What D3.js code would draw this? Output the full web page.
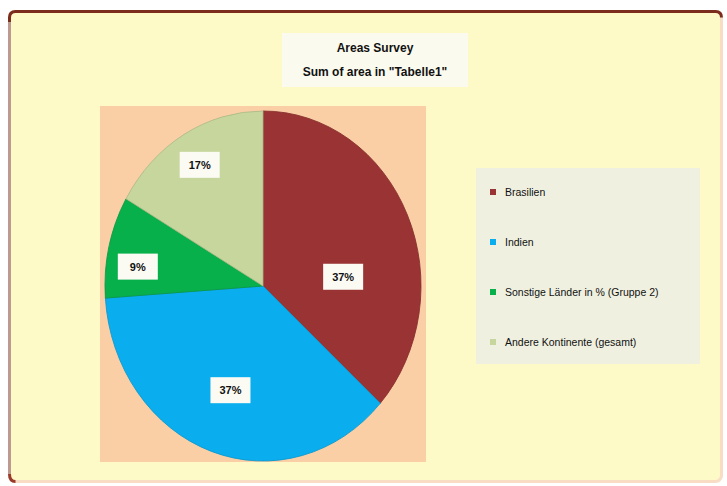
<!DOCTYPE html>
<html>
<head>
<meta charset="utf-8">
<script src="https://cdn.jsdelivr.net/npm/d3@7/dist/d3.min.js"></script>
<style>
  html, body { margin: 0; padding: 0; background: #ffffff; }
  svg { display: block; }
  text { font-family: "Liberation Sans", Arial, sans-serif; }
</style>
</head>
<body>
<svg id="chart" width="727" height="486"></svg>
<script>
// ---- data ----
const titleLines = ["Areas Survey", "Sum of area in \"Tabelle1\""];
const categories = ["Brasilien", "Indien", "Sonstige Länder in % (Gruppe 2)", "Andere Kontinente (gesamt)"];
const values = [36.7, 37.2, 9.4, 16.7];
const labelShiftDeg = [18, 0, -5, 0];
const labelRadius = [0.51, 0.63, 0.8, 0.8];
const colors = ["#9a3434", "#0aaeee", "#08b04c", "#c6d69c"];

// ---- layout ----
const svg = d3.select("#chart");
const total = d3.sum(values);
const fmt = v => Math.round(v / total * 100) + "%";

// outer frame
svg.append("rect")
  .attr("x", 9.5).attr("y", 11.5).attr("width", 712).attr("height", 470)
  .attr("rx", 6).attr("ry", 6)
  .attr("fill", "#fdfac8")
  .attr("stroke", "#f8dcc4").attr("stroke-width", 3);
svg.append("path").attr("d", "M9.5,22 L9.5,17.5 Q9.5,11.5 15.5,11.5 L715.5,11.5 Q721.5,11.5 721.5,17.5")
  .attr("fill", "none").attr("stroke", "#7c2c1c").attr("stroke-width", 3);
svg.append("line").attr("x1", 9.5).attr("x2", 9.5).attr("y1", 22).attr("y2", 474)
  .attr("stroke", "#bc9a92").attr("stroke-width", 3);
svg.append("path").attr("d", "M9.5,474 Q9.5,481.5 15.5,481.5")
  .attr("fill", "none").attr("stroke", "#9a3a2a").attr("stroke-width", 3);

// title box
const tx = 375;
svg.append("rect").attr("x", 282).attr("y", 33).attr("width", 186).attr("height", 54)
  .attr("fill", "#fbf9f2").attr("opacity", 0.9);
svg.append("g").selectAll("text").data(titleLines).join("text")
  .attr("x", tx).attr("y", (d, i) => 52 + i * 24)
  .attr("text-anchor", "middle")
  .attr("font-size", 12).attr("font-weight", "bold").attr("fill", "#111")
  .text(d => d);

// plot area
const plot = { x: 100, y: 106, w: 326, h: 356 };
svg.append("rect").attr("x", plot.x).attr("y", plot.y).attr("width", plot.w).attr("height", plot.h)
  .attr("fill", "#fbcfa6");

// pie (elliptical, stretched vertically)
const cx = 263, cy = 286, rx = 158, ry = 175;
const pie = d3.pie().sort(null).value(d => d)(values);
const arc = d3.arc().innerRadius(0).outerRadius(rx);

const g = svg.append("g").attr("transform", `translate(${cx},${cy}) scale(1,${ry / rx})`);
g.selectAll("path").data(pie).join("path")
  .attr("d", arc)
  .attr("fill", (d, i) => colors[i])
  .attr("stroke", (d, i) => d3.color(colors[i]).darker(0.4))
  .attr("stroke-width", 0.8);

// data labels
const lbl = svg.append("g");
pie.forEach((d, i) => {
  const a = (d.startAngle + d.endAngle) / 2 + labelShiftDeg[i] * Math.PI / 180;
  const f = labelRadius[i];
  const x = cx + Math.sin(a) * rx * f;
  const y = cy - Math.cos(a) * ry * f;
  lbl.append("rect").attr("x", x - 20).attr("y", y - 13).attr("width", 40).attr("height", 26)
    .attr("fill", "#fbfbf4");
  lbl.append("text").attr("x", x).attr("y", y + 4)
    .attr("text-anchor", "middle").attr("font-size", 11).attr("font-weight", "bold")
    .attr("fill", "#111").text(fmt(d.value));
});

// legend
const leg = svg.append("g");
leg.append("rect").attr("x", 476).attr("y", 168).attr("width", 224).attr("height", 196)
  .attr("fill", "#eff0e0");
const ly = d3.scalePoint().domain(categories).range([193, 343]);
categories.forEach((c, i) => {
  leg.append("rect").attr("x", 490).attr("y", ly(c) - 4).attr("width", 6).attr("height", 6)
    .attr("fill", colors[i]);
  leg.append("text").attr("x", 505).attr("y", ly(c) + 3)
    .attr("font-size", 10.5).attr("fill", "#111").text(c);
});
</script>
</body>
</html>
